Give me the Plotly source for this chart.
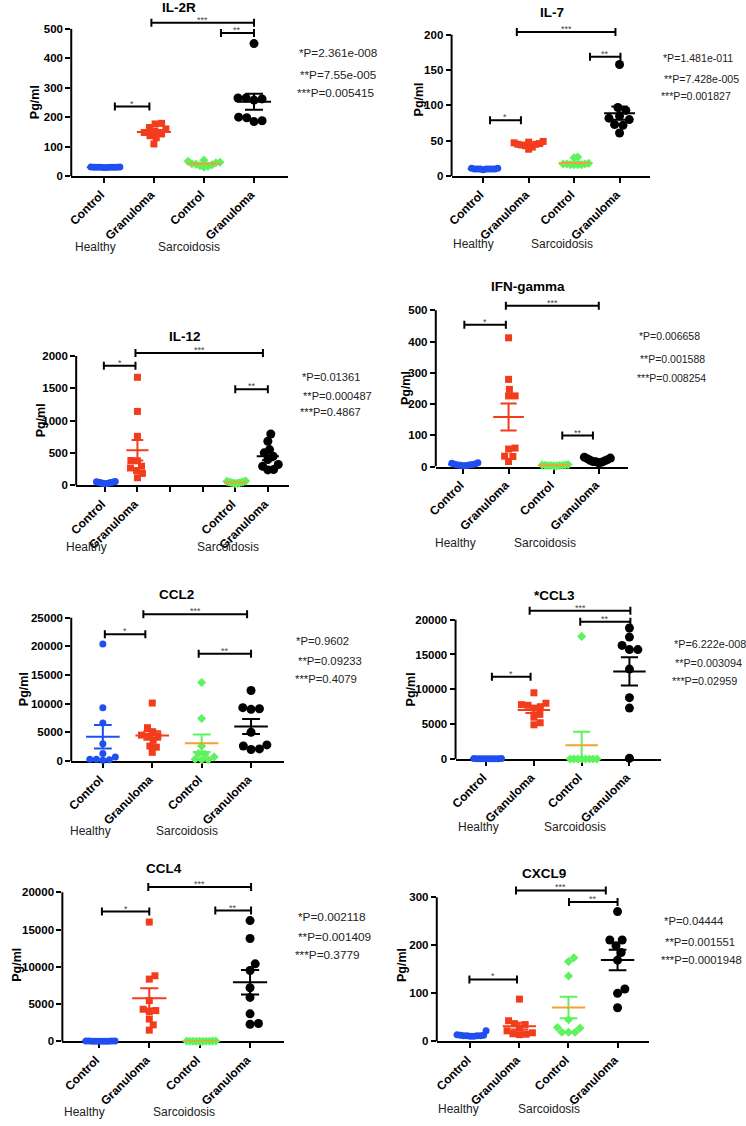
import math
import plotly.graph_objects as go

W, H = 746, 1126
FONT = "Arial, 'Liberation Sans', Helvetica, sans-serif"

# ---------------- data ----------------
CATEGORIES = ["Control", "Granuloma", "Control", "Granuloma"]
GROUP_LABELS = ["Healthy", "Sarcoidosis"]
TITLES = ["IL-2R", "IL-7", "IL-12", "IFN-gamma", "CCL2", "*CCL3", "CCL4", "CXCL9"]
STARS = ["*", "***", "**"]

IL2R_HC = [31, 31, 30, 30, 30, 30, 30, 30, 29, 29]
IL2R_HG = [179, 177, 165, 160, 152, 148, 143, 137, 130, 109]
IL2R_SC = [54, 50, 47, 45, 42, 40, 38, 35, 33, 30]
IL2R_SG = [450, 265, 265, 262, 258, 200, 198, 188, 185]
IL2R_P = ["*P=2.361e-008", "**P=7.55e-005", "***P=0.005415"]

IL7_HC = [11, 11, 10, 10, 10, 10, 10, 10, 10, 9]
IL7_HG = [49, 48, 47, 46, 45, 45, 44, 43, 41, 38]
IL7_SC = [27, 26, 18, 17, 17, 17, 16, 16, 16, 16]
IL7_SG = [158, 97, 93, 85, 82, 80, 73, 72, 61]
IL7_P = ["*P=1.481e-011", "**P=7.428e-005", "***P=0.001827"]

IL12_HC = [62, 58, 52, 48, 44, 40, 36, 32, 28, 24]
IL12_HG = [1672, 1144, 759, 385, 380, 297, 270, 231, 185, 118]
IL12_SC = [68, 62, 56, 52, 48, 44, 40, 36, 32, 28]
IL12_SG = [795, 682, 554, 503, 450, 400, 323, 297, 246, 240]
IL12_P = ["*P=0.01361", "**P=0.000487", "***P=0.4867"]

IFN_HC = [12, 10, 8, 7, 6, 5, 5, 4, 3, 2]
IFN_HG = [412, 279, 247, 226, 226, 59, 56, 33, 32, 16]
IFN_SC = [6, 5, 5, 4, 4, 3, 3, 3, 2, 2]
IFN_SG = [30, 27, 25, 22, 20, 18, 16, 15, 14, 12]
IFN_P = ["*P=0.006658", "**P=0.001588", "***P=0.008254"]

CCL2_HC = [20400, 9300, 6600, 3000, 1300, 700, 300, 300, 200, 100]
CCL2_HG = [10100, 5800, 5100, 4500, 4400, 4300, 3600, 2600, 2400, 1500]
CCL2_SC = [13700, 7400, 2600, 1300, 1200, 700, 300, 200, 200]
CCL2_SG = [12300, 9300, 9100, 9000, 5000, 2800, 2600, 2100, 2000]
CCL2_P = ["*P=0.9602", "**P=0.09233", "***P=0.4079"]

CCL3_HC = [60, 50, 40, 40, 30, 30, 20, 20, 10, 10]
CCL3_HG = [9500, 8000, 7800, 7700, 7500, 7300, 6400, 6000, 5200, 4900]
CCL3_SC = [17600, 0, 0, 0, 0, 0, 0, 0, 0]
CCL3_SG = [18800, 17500, 16300, 15700, 15700, 12900, 8800, 7300, 100]
CCL3_P = ["*P=6.222e-008", "**P=0.003094", "***P=0.02959"]

CCL4_HC = [60, 50, 40, 40, 30, 30, 20, 20, 10, 10]
CCL4_HG = [16000, 8800, 8350, 5470, 4310, 4130, 4000, 3000, 2220, 1510]
CCL4_SC = [50, 40, 40, 30, 30, 20, 20, 10, 10, 10]
CCL4_SG = [16200, 13800, 10400, 9500, 7200, 5900, 3700, 2400, 2300]
CCL4_P = ["*P=0.002118", "**P=0.001409", "***P=0.3779"]

CXCL9_HC = [22, 14, 13, 13, 12, 12, 12, 12, 11, 11]
CXCL9_HG = [88, 43, 37, 35, 28, 22, 18, 16, 15, 14]
CXCL9_SC = [174, 166, 136, 45, 29, 28, 19, 19, 19]
CXCL9_SG = [270, 211, 211, 199, 185, 169, 109, 100, 70]
CXCL9_P = ["*P=0.04444", "**P=0.001551", "***P=0.0001948"]

DATA = [
    ([IL2R_HC, IL2R_HG, IL2R_SC, IL2R_SG], IL2R_P),
    ([IL7_HC, IL7_HG, IL7_SC, IL7_SG], IL7_P),
    ([IL12_HC, IL12_HG, IL12_SC, IL12_SG], IL12_P),
    ([IFN_HC, IFN_HG, IFN_SC, IFN_SG], IFN_P),
    ([CCL2_HC, CCL2_HG, CCL2_SC, CCL2_SG], CCL2_P),
    ([CCL3_HC, CCL3_HG, CCL3_SC, CCL3_SG], CCL3_P),
    ([CCL4_HC, CCL4_HG, CCL4_SC, CCL4_SG], CCL4_P),
    ([CXCL9_HC, CXCL9_HG, CXCL9_SC, CXCL9_SG], CXCL9_P),
]

# ---------------- layout (pixel geometry) ----------------
LAY = [
    dict(axL=63, axR=282, y0=177, yt=29, top=500, dt=100, c0=96, cN=248, nslots=4, slots=[0, 1, 2, 3], ymax=550,
         title=(172, 8), ylab=(27, 103), pv=[(292, 53), (293, 75), (289, 93)], pfs=11.7,
         grp=[(88, 248), (182, 248)], br=[(0.22, 0.91, 236), (0.95, 3.0, 521), (2.34, 3.0, 486)]),
    dict(axL=448, axR=649, y0=177, yt=35, top=200, dt=50, c0=480, cN=618, nslots=4, slots=[0, 1, 2, 3], ymax=220,
         title=(550, 13), ylab=(415, 100), pv=[(660, 58), (661, 79), (658, 97)], pfs=10.6,
         grp=[(470, 245), (560, 245)], br=[(0.15, 0.83, 79), (0.74, 2.91, 204), (2.35, 3.02, 169)]),
    dict(axL=68, axR=283, y0=488, yt=358, top=2000, dt=500, c0=97, cN=262, nslots=6, slots=[0, 1, 4, 5], ymax=2150,
         title=(178, 338), ylab=(32, 423), pv=[(295, 379), (296, 398), (293, 414)], pfs=11.1,
         grp=[(78, 550), (222, 550)], br=[(-0.03, 0.94, 1851), (0.94, 4.85, 2046), (4.0, 5.0, 1487)]),
    dict(axL=432, axR=627, y0=469, yt=312, top=500, dt=100, c0=460, cN=597, nslots=4, slots=[0, 1, 2, 3], ymax=545,
         title=(525, 288), ylab=(402, 390), pv=[(636, 338), (637, 361), (634, 380)], pfs=10.5,
         grp=[(452, 546), (543, 546)], br=[(0.02, 0.94, 454), (0.94, 3.0, 515), (2.19, 2.87, 99)]),
    dict(axL=63, axR=278, y0=765, yt=621, top=25000, dt=5000, c0=95, cN=245, nslots=4, slots=[0, 1, 2, 3], ymax=27000,
         title=(170, 598), ylab=(15, 693), pv=[(288, 644), (290, 665), (287, 683)], pfs=11.3,
         grp=[(82, 835), (180, 835)], br=[(0.04, 0.86, 22100), (0.82, 2.92, 25600), (1.94, 3.0, 18700)]),
    dict(axL=452, axR=660, y0=763, yt=623, top=20000, dt=5000, c0=483, cN=628, nslots=4, slots=[0, 1, 2, 3], ymax=22700,
         title=(552, 599), ylab=(407, 693), pv=[(671, 647), (672, 667), (669, 685)], pfs=10.8,
         grp=[(475, 831), (573, 831)], br=[(0.12, 0.93, 11800), (0.91, 3.02, 21300), (1.97, 3.02, 19700)]),
    dict(axL=54, axR=278, y0=1047, yt=897, top=20000, dt=5000, c0=91, cN=244, nslots=4, slots=[0, 1, 2, 3], ymax=22000,
         title=(157, 873), ylab=(8, 970), pv=[(290, 922), (291, 942), (287, 960)], pfs=11.8,
         grp=[(76, 1118), (177, 1118)], br=[(0.06, 1.0, 17400), (0.98, 3.02, 20700), (2.31, 3.02, 17550)]),
    dict(axL=433, axR=648, y0=1047, yt=902, top=300, dt=100, c0=467, cN=616, nslots=4, slots=[0, 1, 2, 3], ymax=330,
         title=(542, 878), ylab=(398, 970), pv=[(661, 926), (662, 947), (658, 965)], pfs=11.3,
         grp=[(455, 1115), (547, 1115)], br=[(-0.02, 0.95, 129), (0.93, 2.76, 314), (2.01, 3.0, 290)]),
]

# group styles: Healthy Control, Healthy Granuloma, Sarc Control, Sarc Granuloma
STYLE = [
    dict(color="#1f4ff0", symbol="circle", size=7, mean="#1f4ff0", err="#1f4ff0"),
    dict(color="#f23c1c", symbol="square", size=7, mean="#f23c1c", err="#f23c1c"),
    dict(color="#5ef25e", symbol="diamond", size=7, mean="#f5a030", err="#5ef25e"),
    dict(color="#000000", symbol="circle", size=9, mean="#000000", err="#000000"),
]


def swarm_offsets(vals, ppu, d, wmax):
    n = len(vals)
    order = sorted(range(n), key=lambda k: vals[k])
    placed = []
    off = [0.0] * n
    for k in order:
        y = vals[k] * ppu
        ints = []
        for xj, yj in placed:
            dy = abs(y - yj)
            if dy < d:
                dx = math.sqrt(d * d - dy * dy)
                ints.append((xj - dx, xj + dx))
        cands = [0.0] + [a for a, b in ints] + [b for a, b in ints]
        cands.sort(key=lambda c: (round(abs(c), 6), -c))
        for c in cands:
            if all(not (a + 1e-6 < c < b - 1e-6) for a, b in ints):
                off[k] = c
                break
        placed.append((off[k], y))
    m = max(abs(o) for o in off)
    if m > wmax:
        off = [o * wmax / m for o in off]
    return off


def mean_sem(v):
    n = len(v)
    m = sum(v) / n
    sd = math.sqrt(sum((x - m) ** 2 for x in v) / (n - 1))
    return m, sd / math.sqrt(n)


fig = go.Figure()
annotations = []
shapes = []

for i, (L, (groups, pvals)) in enumerate(zip(LAY, DATA), start=1):
    xa = "x" if i == 1 else f"x{i}"
    ya = "y" if i == 1 else f"y{i}"
    unit = (L["cN"] - L["c0"]) / (L["nslots"] - 1)
    xr = [-(L["c0"] - L["axL"]) / unit, L["nslots"] - 1 + (L["axR"] - L["cN"]) / unit]
    ppu = (L["y0"] - L["yt"]) / L["top"]
    ytop_px = L["y0"] - L["ymax"] * ppu

    ticktext = [""] * L["nslots"]
    for s, c in zip(L["slots"], CATEGORIES):
        ticktext[s] = c

    fig.layout[("xaxis" if i == 1 else f"xaxis{i}")] = dict(
        domain=[L["axL"] / W, L["axR"] / W], range=xr, anchor=ya,
        showline=True, linewidth=2, linecolor="black", mirror=False,
        ticks="outside", ticklen=5, tickwidth=2, tickcolor="black",
        tickvals=list(range(L["nslots"])), ticktext=ticktext, tickangle=-45,
        ticklabelshift=-3,
        tickfont=dict(family=FONT, size=12, color="black", weight="bold"),
        showgrid=False, zeroline=False, layer="below traces", fixedrange=True)
    fig.layout[("yaxis" if i == 1 else f"yaxis{i}")] = dict(
        domain=[1 - L["y0"] / H, 1 - ytop_px / H], range=[0, L["ymax"]], anchor=xa,
        showline=False, ticks="outside", ticklen=5, tickwidth=2, tickcolor="black",
        tickvals=list(range(0, L["top"] + 1, L["dt"])), tickformat="d",
        tickfont=dict(family=FONT, size=11.5, color="black", weight="bold"),
        showgrid=False, zeroline=False, fixedrange=True)

    # y axis line from 0 to top tick
    shapes.append(dict(type="line", xref=f"{xa} domain", yref=ya, x0=0, x1=0, y0=0, y1=L["top"],
                       line=dict(color="black", width=2)))

    for g, (slot, vals) in enumerate(zip(L["slots"], groups)):
        st = STYLE[g]
        offs = swarm_offsets(vals, ppu, st["size"] * 0.95, 0.32 * unit)
        xs = [slot + o / unit for o in offs]
        fig.add_trace(go.Scatter(x=xs, y=vals, xaxis=xa, yaxis=ya, mode="markers", cliponaxis=False,
                                 marker=dict(color=st["color"], symbol=st["symbol"], size=st["size"],
                                             line=dict(width=0)),
                                 showlegend=False, hoverinfo="y"))
        m, se = mean_sem(vals)
        cw = 0.18
        fig.add_trace(go.Scatter(
            x=[slot, slot, None, slot - cw, slot + cw, None, slot - cw, slot + cw],
            y=[m - se, m + se, None, m + se, m + se, None, m - se, m - se],
            xaxis=xa, yaxis=ya, mode="lines", line=dict(color=st["err"], width=2),
            showlegend=False, hoverinfo="skip"))
        fig.add_trace(go.Scatter(x=[slot - 0.34, slot + 0.34], y=[m, m], xaxis=xa, yaxis=ya, mode="lines",
                                 line=dict(color=st["mean"], width=2), showlegend=False, hoverinfo="skip"))

    # significance brackets
    for (x0, x1, yv), star in zip(L["br"], STARS):
        shapes.append(dict(type="line", xref=xa, yref=ya, x0=x0, x1=x1, y0=yv, y1=yv,
                           line=dict(color="black", width=2)))
        for xe in (x0, x1):
            shapes.append(dict(type="line", xref=xa, yref=ya, x0=xe, x1=xe, ysizemode="pixel",
                               yanchor=yv, y0=-4, y1=4, line=dict(color="black", width=2)))
        annotations.append(dict(x=(x0 + x1) / 2, y=yv, xref=xa, yref=ya, text=star, showarrow=False,
                                yanchor="bottom", yshift=-4, font=dict(family=FONT, size=9, color="#444444")))

    # titles and labels
    tx, ty = L["title"]
    annotations.append(dict(x=tx / W, y=1 - ty / H, xref="paper", yref="paper", text=TITLES[i - 1],
                            showarrow=False, xanchor="center", yanchor="middle",
                            font=dict(family=FONT, size=13.5, color="black", weight="bold")))
    lx, ly = L["ylab"]
    annotations.append(dict(x=lx / W, y=1 - ly / H, xref="paper", yref="paper", text="Pg/ml",
                            showarrow=False, textangle=-90, xanchor="center", yanchor="middle",
                            font=dict(family=FONT, size=12.5, color="black", weight="bold")))
    for (px, py), t in zip(L["pv"], pvals):
        annotations.append(dict(x=px / W, y=1 - py / H, xref="paper", yref="paper", text=t,
                                showarrow=False, xanchor="left", yanchor="middle",
                                font=dict(family=FONT, size=L["pfs"], color="#222222")))
    for (px, py), t in zip(L["grp"], GROUP_LABELS):
        annotations.append(dict(x=px / W, y=1 - py / H, xref="paper", yref="paper", text=t,
                                showarrow=False, xanchor="center", yanchor="middle",
                                font=dict(family=FONT, size=12, color="#222222")))

fig.update_layout(width=W, height=H, margin=dict(l=0, r=0, t=0, b=0),
                  paper_bgcolor="white", plot_bgcolor="white",
                  font=dict(family=FONT), showlegend=False,
                  annotations=annotations, shapes=shapes)

fig.write_html("out.html", config={"displayModeBar": False},
               post_script="document.body.style.margin='0';document.body.style.overflow='hidden';")
